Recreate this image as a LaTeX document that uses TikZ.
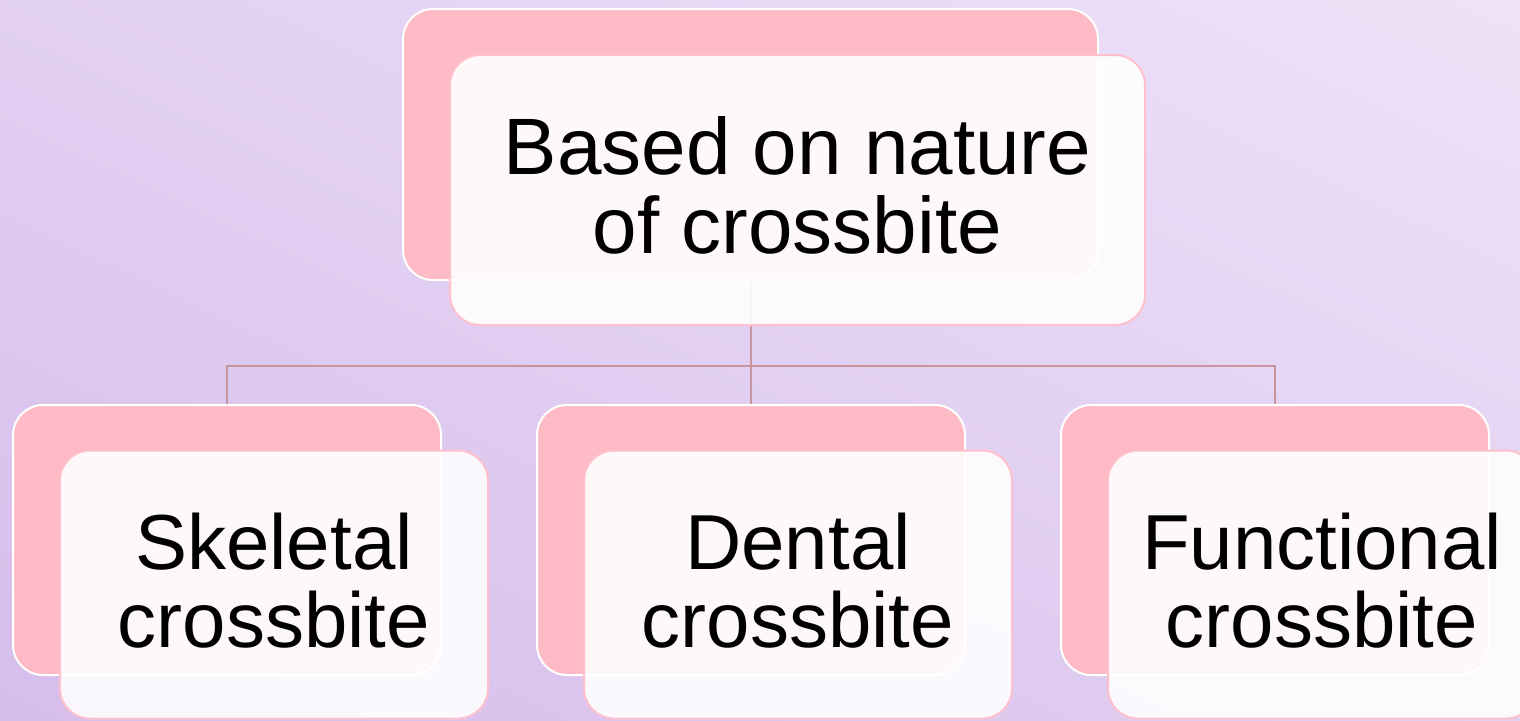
\documentclass[tikz,border=0pt]{standalone}
\usepackage{fontspec}
\setmainfont{Liberation Sans}
\usepackage{xcolor}
\definecolor{cBgDark}{HTML}{D6BDEB}
\definecolor{cBgLight}{HTML}{EEE2F8}
\definecolor{cBack}{HTML}{FFBBC5}
\definecolor{cEdge}{HTML}{FFC0CB}
\definecolor{cLink}{HTML}{C8959F}
\usepackage{tikz}
\usetikzlibrary{positioning,calc,shadings}
\tikzset{
  node-back/.style={draw=white,line width=1pt,fill=cBack,rounded corners=15pt,
    minimum width=214pt,minimum height=135pt},
  node-front/.style={draw=cEdge,line width=1pt,fill=white,fill opacity=0.9,
    text opacity=1,rounded corners=15pt,minimum width=214pt,minimum height=134pt,
    align=center,text depth=4pt,font=\fontsize{39}{39}\selectfont},
  node-top/.style={minimum width=347.5pt},
  link/.style={draw=cLink,line width=1pt},
}
\begin{document}
\begin{tikzpicture}[x=0.5pt,y=-0.5pt]
  \useasboundingbox (0,0) rectangle (1520,720);
  \shade[lower left=cBgDark,upper right=cBgLight,lower right=cBgLight!50!cBgDark,
    upper left=cBgLight!50!cBgDark] (0,720) rectangle (1520,0);
  % back cards
  \node[node-back,node-top,minimum height=135.5pt] (nature-back) at (750.5,144.5) {};
  \node[node-back] (skeletal-back)   at (227,540) {};
  \node[node-back] (dental-back)     at (751,540) {};
  \node[node-back] (functional-back) at (1275,540) {};
  % tree lines
  \coordinate (bus) at (750.5,366);
  \draw[link] (nature-back.south) -- (bus);
  \draw[link] (skeletal-back.north) |- (bus);
  \draw[link] (functional-back.north) |- (bus);
  \draw[link] (dental-back.north) -- (dental-back.north |- bus);
  % front cards
  \node[node-front,node-top,minimum height=135pt,text depth=5pt,
    font=\fontsize{40}{39.5}\selectfont] (nature) at (797.5,190) {Based on nature\\of crossbite};
  \node[node-front] (skeletal)   at (274,584.5)  {Skeletal\\crossbite};
  \node[node-front] (dental)     at (798,584.5)  {Dental\\crossbite};
  \node[node-front] (functional) at (1322,584.5) {Functional\\crossbite};
\end{tikzpicture}
\end{document}
